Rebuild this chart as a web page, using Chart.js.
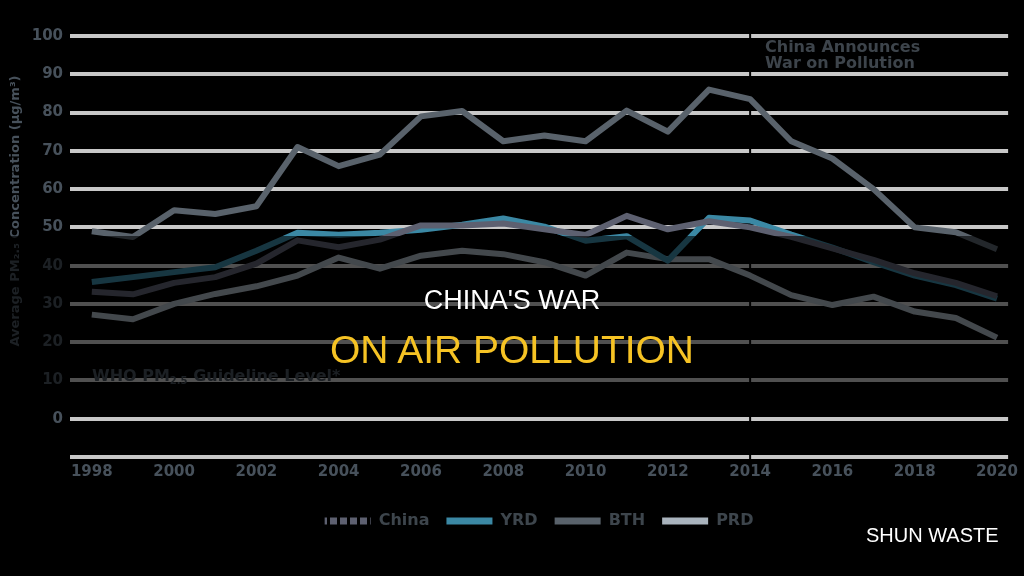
<!DOCTYPE html>
<html>
<head>
<meta charset="utf-8">
<script src="https://cdn.jsdelivr.net/npm/chart.js@4/dist/chart.umd.min.js"></script>
<style>
  html,body{margin:0;padding:0;background:#000;}
  #wrap{position:relative;width:1024px;height:576px;overflow:hidden;background:#000;}
  #c{position:absolute;left:0;top:0;}
  .lbl{position:absolute;white-space:nowrap;font-family:"DejaVu Sans",sans-serif;font-weight:bold;color:#47515b;}
  #ytitle{left:-135px;top:203px;width:300px;text-align:center;font-size:13px;line-height:16px;transform:rotate(-90deg);}
  #ann1{left:765px;top:39px;font-size:16px;line-height:16px;color:#3d444b;}
  #ann2{left:92px;top:368px;font-size:16px;line-height:16px;}
  #ann2 sub{font-size:10px;vertical-align:-3px;line-height:0;}
  #band{position:absolute;left:0;top:236px;width:1024px;height:172px;background:rgba(0,0,0,0.6);}
  .ttl{position:absolute;left:0;width:1024px;text-align:center;font-family:"Liberation Sans",Arial,sans-serif;white-space:nowrap;}
  #t1{top:287px;font-size:27px;line-height:27px;color:#ffffff;}
  #t2{top:330px;font-size:39px;line-height:39px;color:#f6c324;}
  #wm{position:absolute;left:866px;top:525px;font-family:"Liberation Sans",Arial,sans-serif;font-size:20px;line-height:20px;color:#ffffff;white-space:nowrap;}
</style>
</head>
<body>
<div id="wrap">
  <canvas id="c" width="1024" height="576"></canvas>
  <div id="ytitle" class="lbl">Average PM₂.₅ Concentration (μg/m³)</div>
  <div id="ann1" class="lbl">China Announces<br>War on Pollution</div>
  <div id="ann2" class="lbl">WHO PM<sub>2.5</sub> Guideline Level*</div>
  <div id="band"></div>
  <div id="t1" class="ttl">CHINA'S WAR</div>
  <div id="t2" class="ttl">ON AIR POLLUTION</div>
  <div id="wm">SHUN WASTE</div>
</div>
<script>
// ---- data ----
const years = [1998,1999,2000,2001,2002,2003,2004,2005,2006,2007,2008,2009,2010,2011,2012,2013,2014,2015,2016,2017,2018,2019,2020];
const seriesNames = ['China','YRD','BTH','PRD'];
const chinaValues = [33.2,32.5,35.5,37.0,40.5,46.6,44.8,46.8,50.5,50.5,51.0,49.5,48.0,53.0,49.5,51.6,50.0,47.5,44.5,41.5,38.0,35.5,32.0];
const yrdValues   = [35.7,37.0,38.3,39.6,43.9,48.6,48.1,48.6,49.4,50.7,52.3,50.2,46.5,47.7,41.3,52.5,51.8,48.1,44.7,40.9,37.4,34.9,31.4];
const bthValues   = [49.0,47.5,54.5,53.5,55.5,71.0,66.0,69.0,79.0,80.4,72.5,74.0,72.5,80.5,75.0,86.0,83.5,72.5,68.0,60.0,50.0,48.7,44.3];
const prdValues   = [27.2,26.0,30.0,32.6,34.6,37.4,42.1,39.2,42.6,43.9,43.0,40.9,37.4,43.4,41.7,41.7,37.4,32.3,29.7,31.9,28.0,26.3,21.2];
const xTickYears  = [1998,2000,2002,2004,2006,2008,2010,2012,2014,2016,2018,2020];
const yTickValues = [-10,0,10,20,30,40,50,60,70,80,90,100];
const policyYear  = 2014;

const colors = {China:'#5d6070', YRD:'#3b88a4', BTH:'#59626b', PRD:'#a9b3bd'};

const canvas = document.getElementById('c');
const ctx = canvas.getContext('2d');

// dashed legend swatch for China
const pc = document.createElement('canvas');
pc.width = 10; pc.height = 8;
const pg = pc.getContext('2d');
pg.fillStyle = colors.China;
pg.fillRect(0,0,7,8);
const chinaPattern = ctx.createPattern(pc,'repeat');

function toPoints(vals){ return years.map((yr,i)=>({x:yr, y:vals[i]})); }
const allValues = [chinaValues, yrdValues, bthValues, prdValues];

const datasets = seriesNames.map((name,i)=>({
  label: name,
  data: toPoints(allValues[i]),
  borderColor: colors[name],
  backgroundColor: colors[name],
  borderWidth: 6,
  pointRadius: 0,
  tension: 0,
  borderJoinStyle: 'round',
  fill: false
}));

const policyLine = {
  id: 'policyLine',
  beforeDatasetsDraw(chart){
    const xs = chart.scales.x, a = chart.chartArea;
    const px = xs.getPixelForValue(policyYear);
    const c = chart.ctx;
    c.save();
    c.strokeStyle = '#000';
    c.lineWidth = 2;
    c.beginPath();
    c.moveTo(px, a.top - 2);
    c.lineTo(px, a.bottom + 2);
    c.stroke();
    c.restore();
  }
};

const tickFont = {family:'DejaVu Sans', weight:'bold', size:15};

new Chart(ctx, {
  type: 'line',
  data: { datasets },
  plugins: [policyLine],
  options: {
    responsive: false,
    animation: false,
    layout: { padding: {top:36, right:11, bottom:37, left:0} },
    plugins: {
      tooltip: {enabled:false},
      legend: {
        position: 'bottom',
        fullSize: false,
        labels: {
          boxWidth: 46,
          boxHeight: 7,
          padding: 17,
          color: '#3d454c',
          font: {family:'DejaVu Sans', weight:'bold', size:16},
          generateLabels(chart){
            return chart.data.datasets.map((d,i)=>({
              text: d.label,
              fillStyle: d.label === 'China' ? chinaPattern : d.borderColor,
              strokeStyle: 'rgba(0,0,0,0)',
              lineWidth: 0,
              hidden: false,
              datasetIndex: i,
              fontColor: '#3d454c'
            }));
          }
        }
      }
    },
    scales: {
      x: {
        type: 'linear',
        min: 1997.47,
        max: 2020.27,
        grid: {display:false, drawTicks:false},
        border: {display:false},
        afterBuildTicks(s){ s.ticks = xTickYears.map(v=>({value:v})); },
        afterFit(s){ s.height = 39; },
        ticks: {
          color: '#47515b',
          font: tickFont,
          padding: 6,
          maxRotation: 0,
          autoSkip: false,
          callback: v => String(v)
        }
      },
      y: {
        min: -10,
        max: 100,
        afterBuildTicks(s){ s.ticks = yTickValues.map(v=>({value:v})); },
        afterFit(s){ s.width = 70; },
        grid: {color:'#c8c8c8', lineWidth:4, drawTicks:false},
        border: {display:false},
        ticks: {
          color: '#47515b',
          font: tickFont,
          padding: 7,
          callback: v => v < 0 ? '' : String(v)
        }
      }
    }
  }
});
</script>
</body>
</html>
